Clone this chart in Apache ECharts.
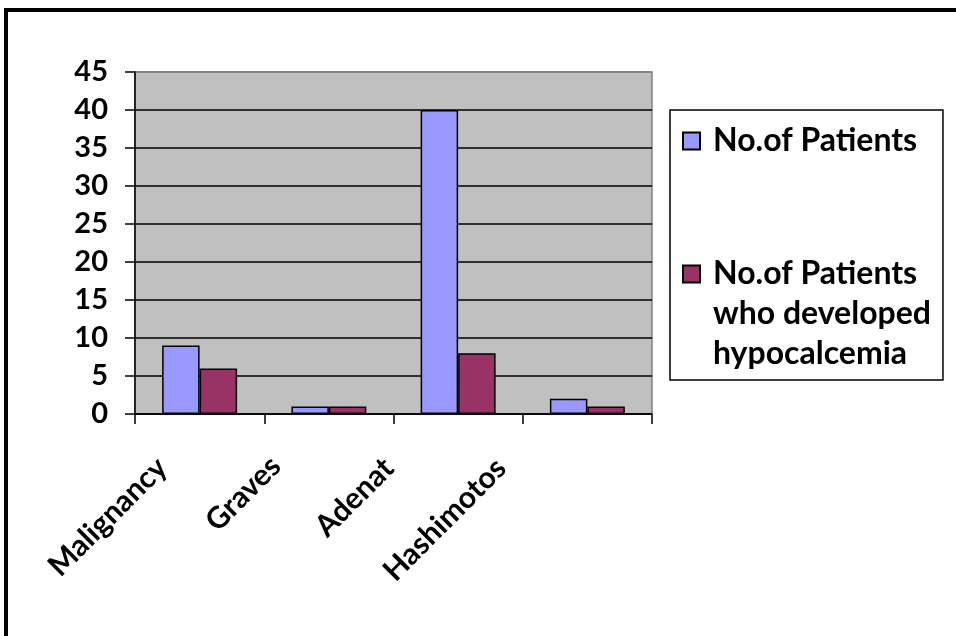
<!DOCTYPE html>
<html>
<head>
<meta charset="utf-8">
<script src="https://cdn.jsdelivr.net/npm/echarts@6/dist/echarts.min.js"></script>
<style>
  html, body { margin: 0; padding: 0; background: #fff; }
  #frame {
    position: absolute; left: 4px; top: 8px; width: 960px; height: 640px;
    border-top: 4px solid #000; border-left: 4px solid #000; box-sizing: border-box;
  }
  #chart { position: absolute; left: 0; top: 0; width: 956px; height: 636px; }
</style>
</head>
<body>
<div id="frame"></div>
<div id="chart"></div>
<script>
// Thyroid pathology groups and patient counts
const categories = ['Malignancy', 'Graves', 'Adenat', 'Hashimotos'];
const seriesNames = ['No.of Patients', 'No.of Patients who developed hypocalcemia'];
const patients = [9, 1, 40, 2];
const hypocalcemia = [6, 1, 8, 1];
const yTicks = [0, 5, 10, 15, 20, 25, 30, 35, 40, 45];

const FONT = 'Lato, "Open Sans", sans-serif';

// Per-label shift of the slanted category names (right / bottom padding)
const labelPad = [[0, 51, 4, 0], [0, 61, 28, 0], [0, 74, 48, 0], [0, 86, 72, 0]];
const rich = {};
labelPad.forEach((p, i) => {
  rich['c' + i] = { fontFamily: FONT, fontWeight: 'bold', fontSize: 30, color: '#000', padding: p };
});

// Grid lines: black, except the top edge which takes the plot border grey
const splitColors = yTicks.map((v, i) => (i === yTicks.length - 1 ? '#808080' : '#000'));

const chart = echarts.init(document.getElementById('chart'), null, { renderer: 'canvas' });
chart.setOption({
  animation: false,
  backgroundColor: 'transparent',
  textStyle: { fontFamily: FONT },
  grid: {
    left: 135, right: 304, top: 72, bottom: 222,
    show: true, backgroundColor: '#c0c0c0', borderColor: '#808080', borderWidth: 1.5
  },
  legend: {
    orient: 'vertical',
    left: 670, top: 110,
    padding: [15, 12, 10, 12],
    borderColor: '#000', borderWidth: 1.5,
    itemWidth: 17, itemHeight: 17, itemGap: 21,
    icon: 'rect',
    data: seriesNames,
    formatter: name => {
      const text = name === seriesNames[1]
        ? '\n\nNo.of Patients\nwho developed\nhypocalcemia'
        : name;
      return text.split('\n').map(l => '{t|' + l + '}').join('\n');
    },
    textStyle: {
      rich: { t: { fontFamily: FONT, fontWeight: 'bold', fontSize: 32, color: '#000', lineHeight: 40, padding: [0, 0, 0, 8] } }
    }
  },
  xAxis: {
    type: 'category',
    data: categories,
    axisLine: { lineStyle: { color: '#000', width: 1.5 } },
    axisTick: { show: true, alignWithLabel: false, length: 10, lineStyle: { color: '#000', width: 1.5 } },
    axisLabel: {
      rotate: 45, margin: 14, interval: 0,
      formatter: (v, i) => '{c' + i + '|' + v + '}',
      rich: rich
    },
    splitLine: { show: false }
  },
  yAxis: {
    type: 'value',
    min: 0, max: 45, interval: 5,
    axisLine: { show: true, lineStyle: { color: '#000', width: 1.5 } },
    axisTick: { show: true, length: 10, lineStyle: { color: '#000', width: 1.5 } },
    axisLabel: { margin: 27, fontFamily: FONT, fontWeight: 'bold', fontSize: 29, color: '#000' },
    splitLine: { show: true, lineStyle: { color: splitColors, width: 1.5 } }
  },
  series: [
    {
      name: seriesNames[0], type: 'bar', data: patients,
      barGap: '0%', barCategoryGap: '42%',
      itemStyle: { color: '#9999ff', borderColor: '#000', borderWidth: 1.5 }
    },
    {
      name: seriesNames[1], type: 'bar', data: hypocalcemia,
      itemStyle: { color: '#993366', borderColor: '#000', borderWidth: 1.5 }
    }
  ]
});
</script>
</body>
</html>
